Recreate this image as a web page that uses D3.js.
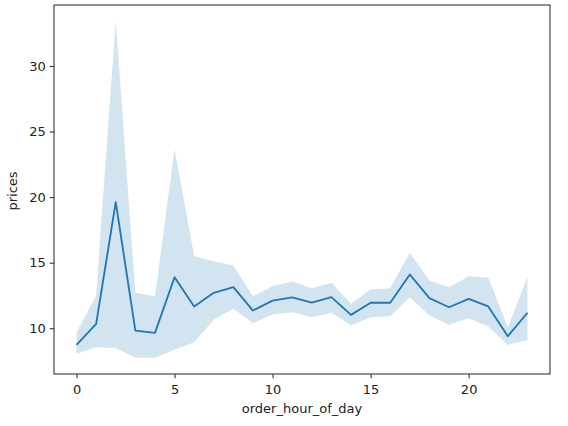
<!DOCTYPE html>
<html>
<head>
<meta charset="utf-8">
<script src="https://cdn.jsdelivr.net/npm/d3@7"></script>
<style>
  body { margin: 0; background: #fff; }
  svg { display: block; font-family: "DejaVu Sans", sans-serif; }
</style>
</head>
<body>
<div id="chart"></div>
<script>
// Data: mean price per order hour and its confidence band
const hours = d3.range(0, 24);
const meanPrices = [8.73, 10.34, 19.62, 9.82, 9.65, 13.89, 11.66, 12.70, 13.13, 11.35, 12.11, 12.35,
                    11.95, 12.37, 11.02, 11.94, 11.94, 14.10, 12.29, 11.60, 12.24, 11.66, 9.39, 11.18];
const upperCI = [9.69, 12.5, 33.44, 12.70, 12.44, 23.64, 15.50, 15.09, 14.79, 12.44, 13.2, 13.56,
                 13.05, 13.47, 11.86, 12.95, 13.05, 15.76, 13.64, 13.13, 13.97, 13.85, 10.08, 13.89];
const lowerCI = [8.05, 8.55, 8.50, 7.74, 7.74, 8.35, 8.93, 10.64, 11.48, 10.38, 11.05, 11.22,
                 10.84, 11.18, 10.21, 10.84, 10.92, 12.37, 10.97, 10.26, 10.76, 10.13, 8.73, 9.11];
const xTicks = [0, 5, 10, 15, 20];
const yTicks = [10, 15, 20, 25, 30];

const width = 568;
const height = 426;
const margin = { top: 5, right: 18, bottom: 52, left: 54 };
const fontSize = "13px";

const svg = d3.select("#chart")
  .append("svg")
    .attr("width", width)
    .attr("height", height);

const x = d3.scaleLinear()
  .domain([-1.15, 24.15])
  .range([margin.left, width - margin.right]);

const y = d3.scaleLinear()
  .domain([6.51, 34.65])
  .range([height - margin.bottom, margin.top]);

const rows = hours.map((h, i) => ({ h, mean: meanPrices[i], lo: lowerCI[i], hi: upperCI[i] }));

// Confidence band
svg.append("path")
  .datum(rows)
  .attr("fill", "#1f77b4")
  .attr("fill-opacity", 0.2)
  .attr("d", d3.area()
    .x(d => x(d.h))
    .y0(d => y(d.lo))
    .y1(d => y(d.hi)));

// Mean line
svg.append("path")
  .datum(rows)
  .attr("fill", "none")
  .attr("stroke", "#1f77b4")
  .attr("stroke-width", 1.85)
  .attr("stroke-linejoin", "round")
  .attr("d", d3.line()
    .x(d => x(d.h))
    .y(d => y(d.mean)));

// Axes
const xAxis = svg.append("g")
  .attr("transform", `translate(0, ${height - margin.bottom})`)
  .call(d3.axisBottom(x).tickValues(xTicks).tickSize(4.3).tickPadding(6.5).tickSizeOuter(0));

const yAxis = svg.append("g")
  .attr("transform", `translate(${margin.left}, 0)`)
  .call(d3.axisLeft(y).tickValues(yTicks).tickSize(4.3).tickPadding(4).tickSizeOuter(0));

[xAxis, yAxis].forEach(g => {
  g.select(".domain").remove();
  g.selectAll("line").attr("stroke", "#222").attr("stroke-width", 1);
  g.selectAll("text")
    .attr("fill", "#222")
    .style("font-size", fontSize)
    .style("font-family", "DejaVu Sans, sans-serif");
});

// Frame
svg.append("rect")
  .attr("x", margin.left)
  .attr("y", margin.top)
  .attr("width", width - margin.left - margin.right)
  .attr("height", height - margin.top - margin.bottom)
  .attr("fill", "none")
  .attr("stroke", "#222")
  .attr("stroke-width", 1);

// Axis labels
svg.append("text")
  .attr("x", (margin.left + width - margin.right) / 2)
  .attr("y", 413)
  .attr("text-anchor", "middle")
  .attr("fill", "#222")
  .style("font-size", fontSize)
  .text("order_hour_of_day");

svg.append("text")
  .attr("transform", `translate(17, 191) rotate(-90)`)
  .attr("text-anchor", "middle")
  .attr("fill", "#222")
  .style("font-size", fontSize)
  .text("prices");
</script>
</body>
</html>
